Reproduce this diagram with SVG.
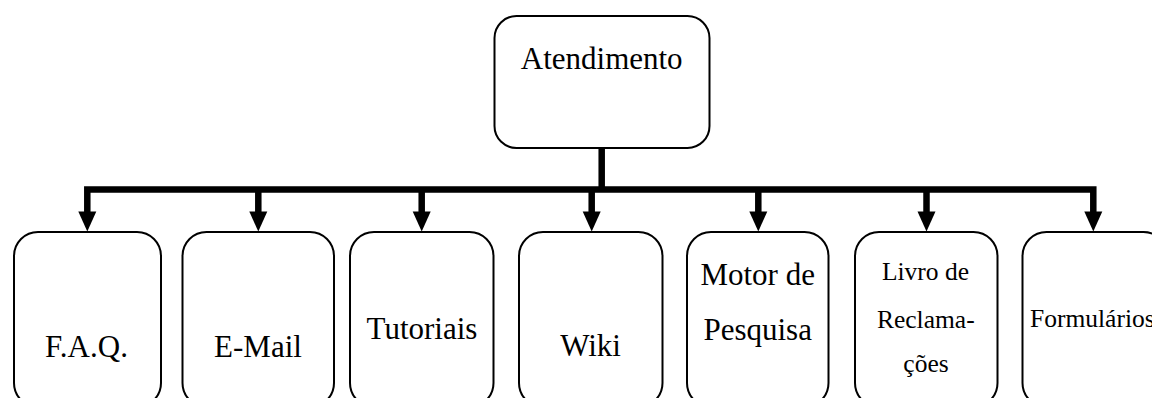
<svg xmlns="http://www.w3.org/2000/svg" width="1152" height="398" viewBox="0 0 1152 398">
  <style>
    .box { fill: #ffffff; stroke: #000000; stroke-width: 2; }
    .lbl { font-size: 31px; fill: #000000; text-anchor: middle; }
    .sm { font-size: 25.5px; }
    .wire { fill: none; stroke: #000000; stroke-width: 6.5; stroke-linecap: butt; stroke-linejoin: miter; }
  </style>
  <defs>
    <!-- arrowhead, tip at (0,20) -->
    <path id="head" d="M-9,0 L9,0 L0,20 Z" fill="#000000"/>
  </defs>
  <rect width="1152" height="398" fill="#ffffff"/>

  <!-- connectors -->
  <g id="connectors">
    <line class="wire" x1="601.7" y1="148" x2="601.7" y2="190"/>
    <path class="wire" d="M87.3,213 V189.5 H1093.3 V213"/>
    <line class="wire" x1="258.3" y1="189.5" x2="258.3" y2="213"/>
    <line class="wire" x1="421.7" y1="189.5" x2="421.7" y2="213"/>
    <line class="wire" x1="591.7" y1="189.5" x2="591.7" y2="213"/>
    <line class="wire" x1="758.3" y1="189.5" x2="758.3" y2="213"/>
    <line class="wire" x1="926.5" y1="189.5" x2="926.5" y2="213"/>
    <use href="#head" x="87.3" y="211.5"/>
    <use href="#head" x="258.3" y="211.5"/>
    <use href="#head" x="421.7" y="211.5"/>
    <use href="#head" x="591.7" y="211.5"/>
    <use href="#head" x="758.3" y="211.5"/>
    <use href="#head" x="926.5" y="211.5"/>
    <use href="#head" x="1093.3" y="211.5"/>
  </g>

  <g font-family="'Liberation Serif', 'Times New Roman', 'DejaVu Serif', serif">
    <g id="atendimento">
      <rect class="box" x="494.5" y="16" width="215" height="132" rx="22"/>
      <text class="lbl" x="601.7" y="68.5">Atendimento</text>
    </g>

    <g id="faq">
      <rect class="box" x="14" y="232" width="147" height="175" rx="24"/>
      <text class="lbl" x="86.5" y="356.5">F.A.Q.</text>
    </g>

    <g id="email">
      <rect class="box" x="182.5" y="232" width="151.5" height="175" rx="24"/>
      <text class="lbl" x="258" y="356.5">E-Mail</text>
    </g>

    <g id="tutoriais">
      <rect class="box" x="350" y="232" width="143.5" height="175" rx="24"/>
      <text class="lbl" x="422" y="338.5">Tutoriais</text>
    </g>

    <g id="wiki">
      <rect class="box" x="519" y="232" width="143.5" height="175" rx="24"/>
      <text class="lbl" x="590.5" y="356">Wiki</text>
    </g>

    <g id="motor-pesquisa">
      <rect class="box" x="687" y="232" width="141.5" height="175" rx="24"/>
      <text class="lbl" x="757.7" y="285">Motor de</text>
      <text class="lbl" x="757.7" y="340">Pesquisa</text>
    </g>

    <g id="livro-reclamacoes">
      <rect class="box" x="855" y="232" width="142.5" height="175" rx="24"/>
      <text class="lbl sm" x="925.5" y="279.5">Livro de</text>
      <text class="lbl sm" x="925.8" y="327.5">Reclama-</text>
      <text class="lbl sm" x="926" y="371.5">ções</text>
    </g>

    <g id="formularios">
      <rect class="box" x="1022.5" y="232" width="145" height="175" rx="24"/>
      <text class="lbl sm" x="1030" y="327" text-anchor="start" style="text-anchor: start">Formulários</text>
    </g>
  </g>
</svg>
